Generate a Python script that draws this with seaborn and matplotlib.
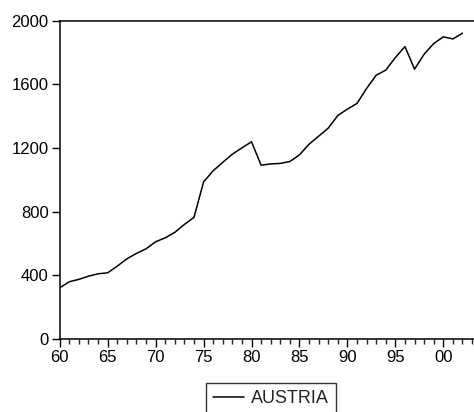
import numpy as np
import pandas as pd
import matplotlib as mpl
mpl.use('Agg')
import matplotlib.pyplot as plt
from matplotlib.ticker import MultipleLocator, FuncFormatter
import seaborn as sns

years = list(range(1960, 2003))
austria = [322, 360, 375, 395, 410, 416, 458, 504, 538, 567,
           611, 636, 670, 720, 764, 987, 1057, 1110, 1161, 1201,
           1239, 1092, 1100, 1103, 1115, 1157, 1224, 1274, 1325, 1404,
           1444, 1480, 1574, 1657, 1689, 1768, 1837, 1695, 1789, 1856,
           1898, 1885, 1921]
y_ticks = [0, 400, 800, 1200, 1600, 2000]

df = pd.DataFrame({'year': years, 'AUSTRIA': austria})

sns.set_style('ticks')
plt.rcParams['font.family'] = ['Liberation Sans', 'DejaVu Sans']

fig = plt.figure(figsize=(4.74, 4.12), dpi=100)
ax = fig.add_axes([0.126, 0.177, 0.874, 0.773])

sns.lineplot(data=df, x='year', y='AUSTRIA', ax=ax, color='black',
             linewidth=1.1, label='AUSTRIA', legend=False)

ax.set_xlim(1960, 2003.2)
ax.set_ylim(0, 2000)
ax.set_yticks(y_ticks)
ax.xaxis.set_major_locator(MultipleLocator(5))
ax.xaxis.set_minor_locator(MultipleLocator(1))
ax.xaxis.set_major_formatter(FuncFormatter(lambda v, p: '%02d' % (int(v) % 100)))

ax.set_xlabel('')
ax.set_ylabel('')
ax.tick_params(axis='both', which='major', direction='out', length=6,
               width=1, labelsize=12, colors='black', pad=2)
ax.tick_params(axis='x', which='minor', direction='out', length=3.5, width=1)

for side in ['left', 'bottom', 'top']:
    ax.spines[side].set_color('black')
    ax.spines[side].set_linewidth(1.1)
ax.spines['right'].set_visible(False)

handles, labels = ax.get_legend_handles_labels()
leg = fig.legend(handles, labels, loc='upper center',
                 bbox_to_anchor=(271 / 474, 1 - 383 / 412),
                 frameon=True, fancybox=False, fontsize=13,
                 handlelength=1.7, borderpad=0.4, handletextpad=0.4,
                 borderaxespad=0)
leg.get_frame().set_edgecolor('black')
leg.get_frame().set_linewidth(1)

fig.savefig('out.png', dpi=100)
